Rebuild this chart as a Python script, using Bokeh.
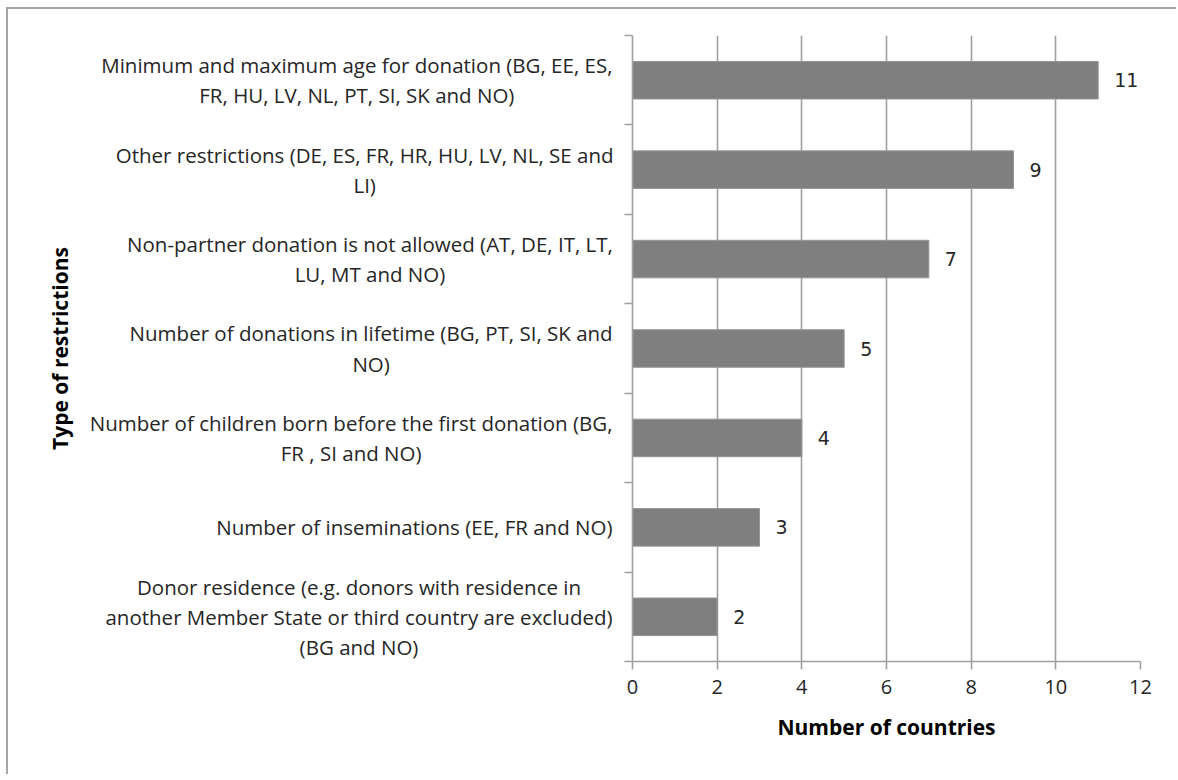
from bokeh.plotting import figure
from bokeh.layouts import row
from bokeh.models import Range1d, FixedTicker, ColumnDataSource
from bokeh.embed import file_html
from bokeh.resources import INLINE
from bokeh.core.properties import value

categories = [
    "Minimum and maximum age for donation (BG, EE, ES,\nFR, HU, LV, NL, PT, SI, SK and NO)",
    "Other restrictions (DE, ES, FR, HR, HU, LV, NL, SE and\nLI)",
    "Non-partner donation is not allowed (AT, DE, IT, LT,\nLU, MT and NO)",
    "Number of donations in lifetime (BG, PT, SI, SK and\nNO)",
    "Number of children born before the first donation (BG,\nFR , SI and NO)",
    "Number of inseminations (EE, FR and NO)",
    "Donor residence (e.g. donors with residence in\nanother Member State or third country are excluded)\n(BG and NO)",
]
counts = [11, 9, 7, 5, 4, 3, 2]
x_ticks = [0, 2, 4, 6, 8, 10, 12]

# --- layout constants ---
OFF_X, OFF_Y = 8, 9            # outer frame (border + margin) offset
TOTAL_W, H = 1168, 765
TOP = 35 - OFF_Y               # frame top border (shared by both panels)
BOTTOM = H - (661 - OFF_Y)     # frame bottom border (shared by both panels)
LABEL_W = 616 - OFF_X          # width of the label panel (left)
LABEL_FRAME_L = 80 - OFF_X     # left border of the label panel (holds the axis title)
AXIS_GAP = 16                  # left border of the chart panel (axis ticks)
RIGHT = TOTAL_W - (1140 - OFF_X)
X_MAX = 12
LABEL_FONT = "Open Sans"
LABEL_SIZE = 20.5
LABEL_RIGHT = LABEL_W - LABEL_FRAME_L - 4   # right edge of label blocks (panel px)

# Open Sans Regular advance widths (units per em = 2048), used to centre the
# wrapped lines of each category label inside a right-aligned block (as Excel does)
_ADV = {
    " ": 532, ",": 502, "-": 659, ".": 545, "(": 596, ")": 596,
    "A": 1296, "B": 1327, "C": 1292, "D": 1493, "E": 1139, "F": 1057, "G": 1491,
    "H": 1511, "I": 571, "K": 1257, "L": 1063, "M": 1849, "N": 1544, "O": 1595,
    "P": 1233, "R": 1266, "S": 1124, "T": 1133, "U": 1491, "V": 1219,
    "a": 1139, "b": 1255, "c": 975, "d": 1255, "e": 1149, "f": 694, "g": 1122,
    "h": 1257, "i": 518, "j": 518, "k": 1075, "l": 518, "m": 1905, "n": 1257,
    "o": 1237, "p": 1255, "q": 1255, "r": 836, "s": 977, "t": 723, "u": 1257,
    "v": 1026, "w": 1593, "x": 1073, "y": 1028, "z": 954,
}


def text_width(s, size):
    return sum(_ADV.get(ch, 1150) for ch in s) / 2048.0 * size


n = len(categories)
pos = [n - 1 - i for i in range(n)]
y_range = Range1d(-0.5, n - 0.5)
grid_color = "#a0a0a0"

# ---------------- left panel: category labels + y axis title ----------------
block_centres = [LABEL_RIGHT - max(text_width(l, LABEL_SIZE) for l in c.split("\n")) / 2.0
                 for c in categories]
lsrc = ColumnDataSource(dict(x=block_centres, y=pos, t=categories))

pl = figure(width=LABEL_W, height=H, output_backend="svg", toolbar_location=None,
            x_range=Range1d(0, LABEL_W - LABEL_FRAME_L), y_range=y_range,
            x_axis_location=None, min_border_left=LABEL_FRAME_L, min_border_right=0,
            min_border_top=TOP, min_border_bottom=BOTTOM)
pl.outline_line_color = None
pl.grid.visible = False
pl.text(x="x", y="y", text="t", source=lsrc, text_align="center", text_baseline="middle",
        text_font=value(LABEL_FONT), text_font_size=f"{LABEL_SIZE}px",
        text_color="#262626", text_line_height=1.08)
la = pl.yaxis[0]
la.ticker = FixedTicker(ticks=[])
la.axis_line_color = None
la.major_tick_line_color = None
la.minor_tick_line_color = None
la.major_label_standoff = 0
la.axis_label = "Type of restrictions"
la.axis_label_text_font = "Open Sans"
la.axis_label_text_font_style = "bold"
la.axis_label_text_font_size = "21px"
la.axis_label_text_color = "#000000"
la.axis_label_standoff = 7

# ---------------- right panel: the bars ----------------
src = ColumnDataSource(dict(y=pos, v=counts, lab=[str(c) for c in counts]))
p = figure(width=TOTAL_W - LABEL_W, height=H, output_backend="svg", toolbar_location=None,
           x_range=Range1d(0, X_MAX), y_range=y_range,
           min_border_left=AXIS_GAP, min_border_right=RIGHT,
           min_border_top=TOP, min_border_bottom=BOTTOM)
p.outline_line_color = None

p.hbar(y="y", right="v", left=0, height=0.42, source=src,
       fill_color="#7f7f7f", line_color="#969696", line_width=1)
p.text(x="v", y="y", text="lab", source=src, x_offset=16, text_baseline="middle",
       text_font=value("DejaVu Sans"), text_font_size="19px", text_color="#262626")

p.ygrid.visible = False
p.xgrid.ticker = FixedTicker(ticks=x_ticks)
p.xgrid.grid_line_color = grid_color
p.xgrid.grid_line_width = 1.6

xa = p.xaxis[0]
xa.ticker = FixedTicker(ticks=x_ticks)
xa.axis_line_color = grid_color
xa.axis_line_width = 1.6
xa.major_tick_line_color = grid_color
xa.major_tick_line_width = 1.6
xa.major_tick_in = 0
xa.major_tick_out = 8
xa.minor_tick_line_color = None
xa.major_label_standoff = 10
xa.major_label_text_font = "Open Sans"
xa.major_label_text_font_size = "20px"
xa.major_label_text_color = "#262626"
xa.axis_label = "Number of countries"
xa.axis_label_text_font = "Open Sans"
xa.axis_label_text_font_style = "bold"
xa.axis_label_text_font_size = "21px"
xa.axis_label_text_color = "#000000"
xa.axis_label_standoff = 16

ya = p.yaxis[0]
ya.ticker = FixedTicker(ticks=[], minor_ticks=[k - 0.5 for k in range(n + 1)])
ya.axis_line_color = grid_color
ya.axis_line_width = 1.6
ya.major_tick_line_color = None
ya.major_tick_in = 0
ya.major_tick_out = 0
ya.major_label_standoff = 0
ya.minor_tick_line_color = grid_color
ya.minor_tick_line_width = 1.6
ya.minor_tick_in = 0
ya.minor_tick_out = 8

layout = row(pl, p, spacing=0,
             styles={"border-top": "2px solid #a6a6a6", "border-left": "2px solid #a6a6a6",
                     "margin-top": "7px", "margin-left": "6px"})
open("out.html", "w").write(file_html(layout, INLINE))
